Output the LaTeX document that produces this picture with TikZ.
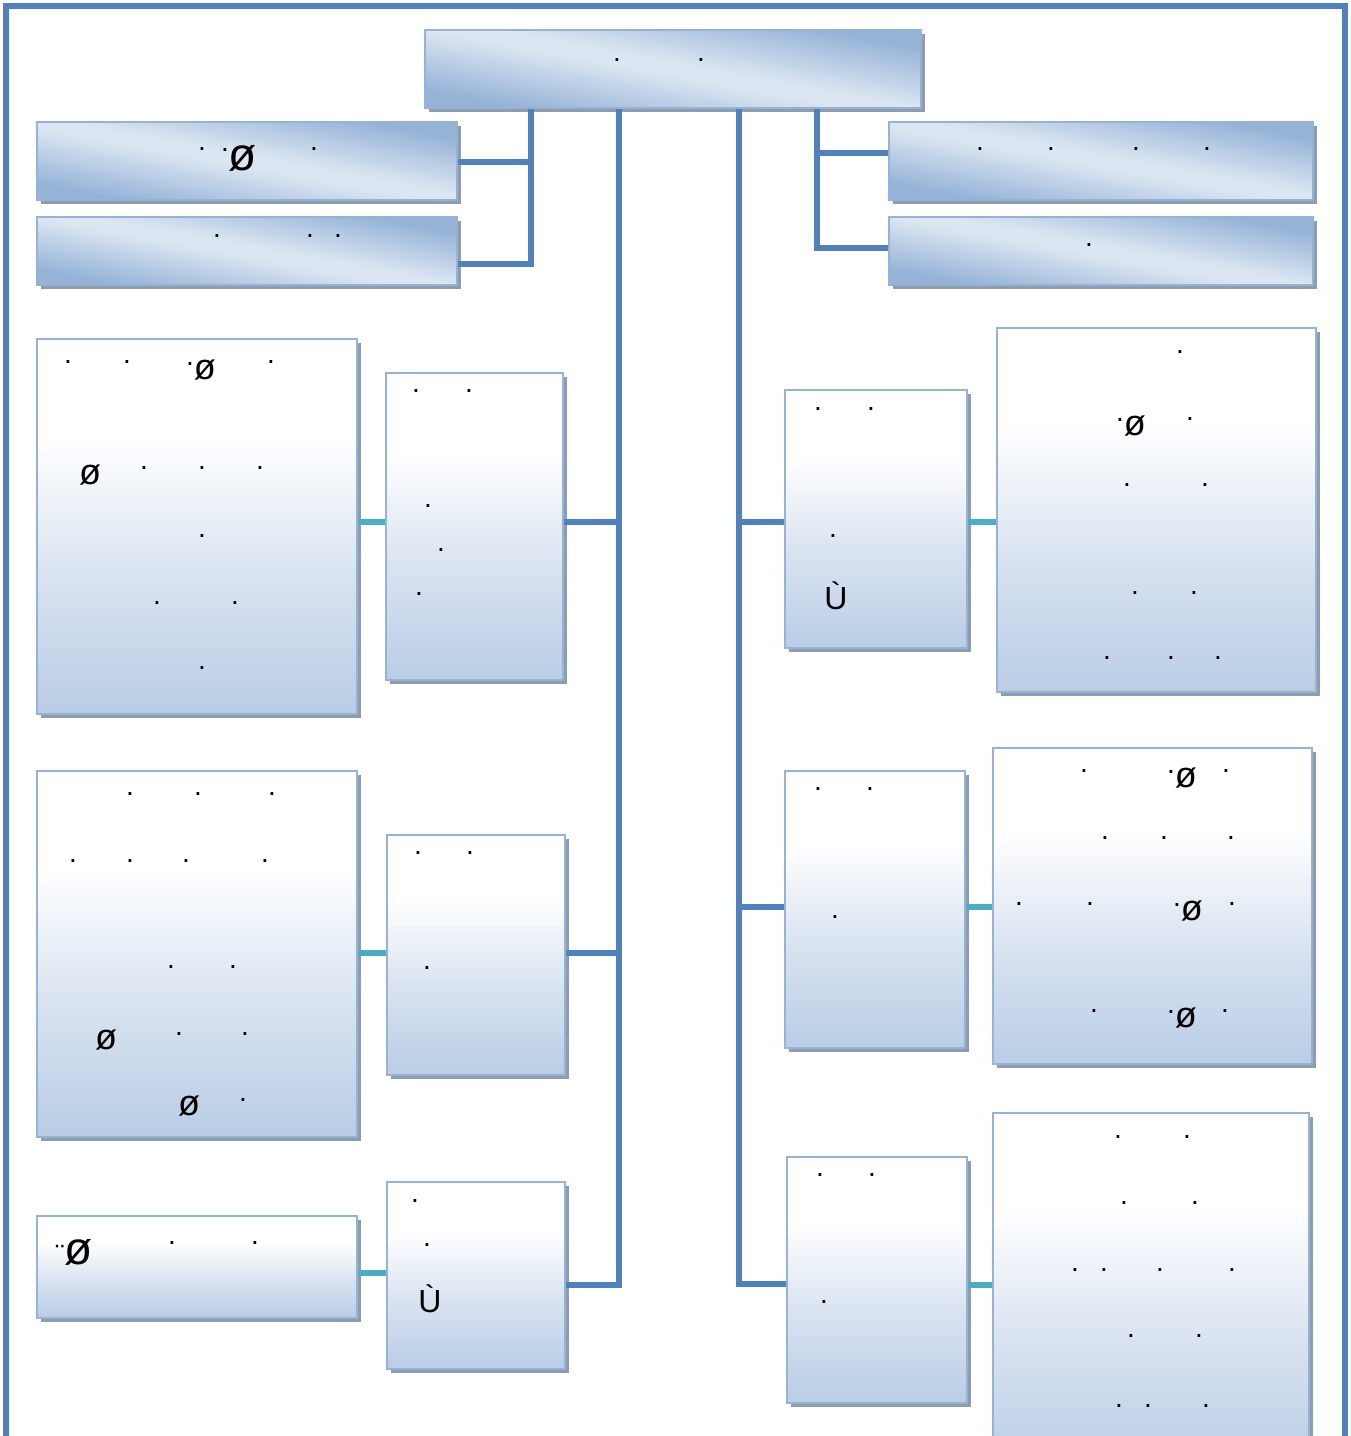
\documentclass[tikz,border=0pt]{standalone}
\usepackage{fontspec}
\setmainfont{Liberation Sans}

\definecolor{linkblue}{RGB}{79,129,189}
\definecolor{linkteal}{RGB}{75,172,198}
\definecolor{boxedge}{RGB}{149,179,215}
\definecolor{boxdark}{RGB}{149,179,215}
\definecolor{boxlight}{RGB}{220,230,242}
\definecolor{boxlow}{RGB}{185,205,229}
\definecolor{boxmid}{RGB}{214,225,239}
\definecolor{boxshadow}{RGB}{142,156,176}

\pgfdeclareverticalshading{barshade}{100bp}{color(0bp)=(boxdark); color(27bp)=(boxdark); color(48bp)=(boxlight); color(52bp)=(boxlight); color(73bp)=(boxdark); color(100bp)=(boxdark)}
\pgfdeclareverticalshading{colshade}{100bp}{color(0bp)=(boxlow); color(25bp)=(boxlow); color(42bp)=(boxmid); color(62bp)=(white); color(100bp)=(white)}

\tikzset{
  box/.style={rectangle, draw=boxedge, line width=1.5pt, inner sep=0pt,
    preaction={fill=boxshadow, transform canvas={shift={(4pt,-4pt)}}}},
  barbox/.style={box, shade, shading=barshade, shading angle=-10.5},
  colbox/.style={box, shade, shading=colshade},
  link/.style={draw=linkblue, line width=6pt, line join=miter},
  tlink/.style={draw=linkteal, line width=6pt},
  dotnote/.style={inner sep=0pt, font=\fontsize{28}{30}\selectfont},
  glyph/.style={inner sep=0pt, font=\fontsize{36}{38}\selectfont},
  bigglyph/.style={inner sep=0pt, font=\fontsize{46}{48}\selectfont},
}
\newcommand{\updot}{\raisebox{0.4em}{\fontsize{28}{30}\selectfont.}}

\begin{document}
\begin{tikzpicture}[x=1pt,y=-1pt]
\useasboundingbox (0,0) rectangle (1351,1436);
% page frame
\draw[linkblue, line width=6.5pt] (6,1460) -- (6,6) -- (1345,6) -- (1345,1460);

% boxes
\node[barbox, minimum width=496, minimum height=78] (top) at (673,69) {};
\node[barbox, minimum width=420, minimum height=78] (l1) at (247,161) {};
\node[barbox, minimum width=420, minimum height=68] (l2) at (247,251) {};
\node[barbox, minimum width=424, minimum height=78] (r1) at (1101,161) {};
\node[barbox, minimum width=424, minimum height=68] (r2) at (1101,251) {};

\node[colbox, minimum width=320, minimum height=375] (a1) at (197,526.5) {};
\node[colbox, minimum width=177, minimum height=307] (a2) at (474.5,526.5) {};
\node[colbox, minimum width=320, minimum height=366] (b1) at (197,954) {};
\node[colbox, minimum width=178, minimum height=240] (b2) at (476,955) {};
\node[colbox, minimum width=320, minimum height=102] (c1) at (197,1267) {};
\node[colbox, minimum width=178, minimum height=187] (c2) at (476,1275.5) {};

\node[colbox, minimum width=182, minimum height=258] (d1) at (876,519) {};
\node[colbox, minimum width=319, minimum height=364] (d2) at (1156.5,510) {};
\node[colbox, minimum width=180, minimum height=277] (e1) at (875,909.5) {};
\node[colbox, minimum width=319, minimum height=316] (e2) at (1152.5,906) {};
\node[colbox, minimum width=180, minimum height=246] (f1) at (877,1280) {};
\node[colbox, minimum width=316, minimum height=357] (f2) at (1151,1291.5) {};

% connector levels
\coordinate (tl) at (619,0);
\coordinate (tr) at (739,0);
\coordinate (bl) at (531,0);
\coordinate (br) at (817,0);
\coordinate (yl1) at (0,162);
\coordinate (yl2) at (0,264);
\coordinate (yr1) at (0,153);
\coordinate (yr2) at (0,248);
\coordinate (ya) at (0,522);
\coordinate (yb) at (0,953);
\coordinate (yc) at (0,1273);
\coordinate (yc2) at (0,1285);
\coordinate (ye) at (0,907);
\coordinate (yf) at (0,1284);

% blue connectors
\draw[link] (top.south -| bl) |- (l2.east |- yl2);
\draw[link] (l1.east |- yl1) -- (bl |- yl1);
\draw[link] (top.south -| br) |- (r2.west |- yr2);
\draw[link] (r1.west |- yr1) -- (br |- yr1);
\draw[link] (top.south -| tl) |- (c2.east |- yc2);
\draw[link] (a2.east |- ya) -- (tl |- ya);
\draw[link] (b2.east |- yb) -- (tl |- yb);
\draw[link] (top.south -| tr) |- (f1.west |- yf);
\draw[link] (d1.west |- ya) -- (tr |- ya);
\draw[link] (e1.west |- ye) -- (tr |- ye);

% teal connectors
\draw[tlink] (a1.east |- ya) -- (a2.west |- ya);
\draw[tlink] (b1.east |- yb) -- (b2.west |- yb);
\draw[tlink] (c1.east |- yc) -- (c2.west |- yc);
\draw[tlink] (d1.east |- ya) -- (d2.west |- ya);
\draw[tlink] (e1.east |- ye) -- (e2.west |- ye);
\draw[tlink] (f1.east |- yc2) -- (f2.west |- yc2);

% texts
\foreach \x/\y [count=\i] in {617/60, 701/60,
    202/149, 314/149, 217/236, 310/236, 338/236,
    980/149, 1051/149, 1136/149, 1207/149, 1089/245,
    68/362, 127/362, 271/362, 144/468, 202/468, 260/468, 202/536, 157/603, 235/603, 202/668,
    416/391, 469/391, 428/506, 441/550, 419/594,
    130/794, 198/794, 272/794, 73/861, 130/861, 186/861, 265/861, 171/967, 233/967, 179/1034, 245/1034, 243/1100,
    418/853, 470/853, 427/968,
    172/1243, 255/1243, 415/1201, 427/1245,
    818/409, 871/409, 833/536,
    1180/352, 1190/419, 1127/485, 1205/485, 1135/593, 1194/593, 1107/658, 1171/658, 1218/658,
    818/789, 870/789, 835/917,
    1084/771, 1226/771, 1105/838, 1164/838, 1231/838, 1019/904, 1090/904, 1232/904, 1094/1011, 1225/1011,
    820/1175, 872/1175, 824/1302,
    1118/1137, 1187/1137, 1124/1203, 1195/1203, 1075/1270, 1104/1270, 1160/1270, 1232/1270, 1131/1336, 1199/1336, 1119/1406, 1148/1406, 1206/1406}
  \node[dotnote] (p\i) at (\x,\y) {.};

\node[bigglyph] (o1) at (239,158) {\updot ø};
\node[glyph] (o2) at (201,370) {\updot ø};
\node[glyph] (o3) at (90,475) {ø};
\node[glyph] (o4) at (106,1040) {ø};
\node[glyph] (o5) at (189,1106) {ø};
\node[bigglyph] (o6) at (74,1252) {{\fontsize{28}{30}\selectfont ¨}ø};
\node[glyph] (o7) at (1131,426) {\updot ø};
\node[glyph] (o8) at (1182,778) {\updot ø};
\node[glyph] (o9) at (1188,911) {\updot ø};
\node[glyph] (o10) at (1182,1018) {\updot ø};
\node[glyph, font=\fontsize{32}{34}\selectfont] (u1) at (836,596) {Ù};
\node[glyph, font=\fontsize{32}{34}\selectfont] (u2) at (430,1299) {Ù};
\end{tikzpicture}
\end{document}
